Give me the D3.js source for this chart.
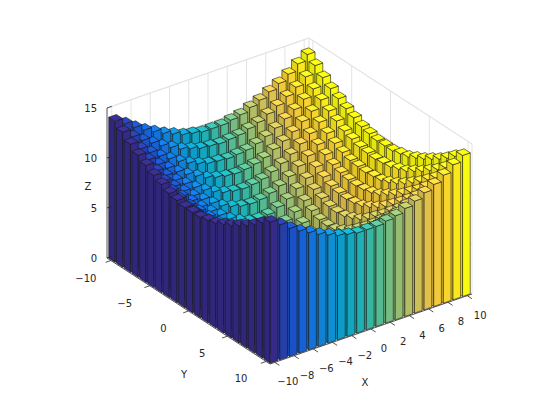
<!DOCTYPE html>
<html>
<head>
<meta charset="utf-8">
<script src="https://cdn.jsdelivr.net/npm/d3@7"></script>
<style>
  body { margin: 0; background: #fff; }
  text { font-family: "DejaVu Sans", sans-serif; font-size: 10px; fill: #262626; }
</style>
</head>
<body>
<svg id="chart" width="560" height="420"></svg>
<script>
// bar grid: columns along X, rows along Y
const xValues = d3.range(-10, 11);
const yValues = d3.range(-10, 11);
const zTicks = [0, 5, 10, 15];
const yTicks = [-10, -5, 0, 5, 10];
const xTicks = [-10, -8, -6, -4, -2, 0, 2, 4, 6, 8, 10];

// heights, one row per Y value (-10 .. 10), one entry per X value (-10 .. 10)
const heights = [
  [14.1,13.5,12.8,12.2,11.7,11.2,10.8,10.4,10.2,10.0,10,10.0,10.2,10.4,10.8,11.2,11.7,12.2,12.8,13.5,14.1],
  [13.5,12.7,12.0,11.4,10.8,10.3,9.8,9.5,9.2,9.1,9,9.1,9.2,9.5,9.8,10.3,10.8,11.4,12.0,12.7,13.5],
  [12.8,12.0,11.3,10.6,10.0,9.4,8.9,8.5,8.2,8.1,8,8.1,8.2,8.5,8.9,9.4,10.0,10.6,11.3,12.0,12.8],
  [12.2,11.4,10.6,9.9,9.2,8.6,8.1,7.6,7.3,7.1,7,7.1,7.3,7.6,8.1,8.6,9.2,9.9,10.6,11.4,12.2],
  [11.7,10.8,10.0,9.2,8.5,7.8,7.2,6.7,6.3,6.1,6,6.1,6.3,6.7,7.2,7.8,8.5,9.2,10.0,10.8,11.7],
  [11.2,10.3,9.4,8.6,7.8,7.1,6.4,5.8,5.4,5.1,5,5.1,5.4,5.8,6.4,7.1,7.8,8.6,9.4,10.3,11.2],
  [10.8,9.8,8.9,8.1,7.2,6.4,5.7,5.0,4.5,4.1,4,4.1,4.5,5.0,5.7,6.4,7.2,8.1,8.9,9.8,10.8],
  [10.4,9.5,8.5,7.6,6.7,5.8,5.0,4.2,3.6,3.2,3,3.2,3.6,4.2,5.0,5.8,6.7,7.6,8.5,9.5,10.4],
  [10.2,9.2,8.2,7.3,6.3,5.4,4.5,3.6,2.8,2.2,2,2.2,2.8,3.6,4.5,5.4,6.3,7.3,8.2,9.2,10.2],
  [10.0,9.1,8.1,7.1,6.1,5.1,4.1,3.2,2.2,1.4,1,1.4,2.2,3.2,4.1,5.1,6.1,7.1,8.1,9.1,10.0],
  [10,9,8,7,6,5,4,3,2,1,0,1,2,3,4,5,6,7,8,9,10],
  [10.0,9.1,8.1,7.1,6.1,5.1,4.1,3.2,2.2,1.4,1,1.4,2.2,3.2,4.1,5.1,6.1,7.1,8.1,9.1,10.0],
  [10.2,9.2,8.2,7.3,6.3,5.4,4.5,3.6,2.8,2.2,2,2.2,2.8,3.6,4.5,5.4,6.3,7.3,8.2,9.2,10.2],
  [10.4,9.5,8.5,7.6,6.7,5.8,5.0,4.2,3.6,3.2,3,3.2,3.6,4.2,5.0,5.8,6.7,7.6,8.5,9.5,10.4],
  [10.8,9.8,8.9,8.1,7.2,6.4,5.7,5.0,4.5,4.1,4,4.1,4.5,5.0,5.7,6.4,7.2,8.1,8.9,9.8,10.8],
  [11.2,10.3,9.4,8.6,7.8,7.1,6.4,5.8,5.4,5.1,5,5.1,5.4,5.8,6.4,7.1,7.8,8.6,9.4,10.3,11.2],
  [11.7,10.8,10.0,9.2,8.5,7.8,7.2,6.7,6.3,6.1,6,6.1,6.3,6.7,7.2,7.8,8.5,9.2,10.0,10.8,11.7],
  [12.2,11.4,10.6,9.9,9.2,8.6,8.1,7.6,7.3,7.1,7,7.1,7.3,7.6,8.1,8.6,9.2,9.9,10.6,11.4,12.2],
  [12.8,12.0,11.3,10.6,10.0,9.4,8.9,8.5,8.2,8.1,8,8.1,8.2,8.5,8.9,9.4,10.0,10.6,11.3,12.0,12.8],
  [13.5,12.7,12.0,11.4,10.8,10.3,9.8,9.5,9.2,9.1,9,9.1,9.2,9.5,9.8,10.3,10.8,11.4,12.0,12.7,13.5],
  [14.1,13.5,12.8,12.2,11.7,11.2,10.8,10.4,10.2,10.0,10,10.0,10.2,10.4,10.8,11.2,11.7,12.2,12.8,13.5,14.1]
];

const svg = d3.select("#chart");

// screen position of the floor corners of the box (x=-10.5,y=-10.5), (x=-10.5,y=10.5), (x=10.5,y=10.5)
const cA = [107, 258], cF = [270, 364], cR = [472, 294];
const sx = d3.scaleLinear().domain([-10.5, 10.5]).range([0, 1]);
const sy = d3.scaleLinear().domain([-10.5, 10.5]).range([0, 1]);
const sz = d3.scaleLinear().domain([0, 15]).range([0, -150]);

function proj(x, y, z) {
  const u = sx(x), v = sy(y);
  return [cA[0] + (cF[0] - cA[0]) * v + (cR[0] - cF[0]) * u,
          cA[1] + (cF[1] - cA[1]) * v + (cR[1] - cF[1]) * u + sz(z)];
}
const line = pts => "M" + pts.map(p => p.join(",")).join("L") + "Z";

const parula = d3.interpolateRgbBasis(["#352a87", "#0f5cdd", "#1481d6", "#06a4ca",
  "#2eb7a4", "#87bf77", "#d1bb59", "#fec832", "#f9fb0e"]);
const color = d3.scaleSequential(parula).domain([-10, 10]);

// back walls and grid
const grid = svg.append("g").attr("stroke", "#e3e3e3").attr("stroke-width", 1).attr("fill", "none");
const x0 = -10.5, x1 = 10.5, y0 = -10.5, y1 = 10.5;
xTicks.forEach(t => grid.append("path").attr("d", "M" + proj(t, y0, 0) + "L" + proj(t, y0, 15)));
yTicks.forEach(t => grid.append("path").attr("d", "M" + proj(x1, t, 0) + "L" + proj(x1, t, 15)));
zTicks.forEach(t => grid.append("path").attr("d", "M" + proj(x0, y0, t) + "L" + proj(x1, y0, t) + "L" + proj(x1, y1, t)));
xTicks.forEach(t => grid.append("path").attr("d", "M" + proj(t, y0, 0) + "L" + proj(t, y1, 0)));
yTicks.forEach(t => grid.append("path").attr("d", "M" + proj(x0, t, 0) + "L" + proj(x1, t, 0)));
grid.append("path").attr("d", "M" + proj(x0, y0, 15) + "L" + proj(x1, y0, 15) + "L" + proj(x1, y1, 15) + "L" + proj(x1, y1, 0));
grid.append("path").attr("d", "M" + proj(x1, y0, 0) + "L" + proj(x1, y0, 15));

// bars, far to near
const bars = svg.append("g").attr("stroke", "#1a1a1a").attr("stroke-width", 0.6).attr("stroke-linejoin", "round");
const w = 0.4;
xValues.slice().reverse().forEach(x => {
  const ci = xValues.indexOf(x);
  const base = d3.color(color(x));
  yValues.forEach((y, ri) => {
    const h = heights[ri][ci];
    const g = bars.append("g");
    // -X face
    g.append("path").attr("fill", base.darker(0.25))
      .attr("d", line([proj(x - w, y - w, 0), proj(x - w, y + w, 0), proj(x - w, y + w, h), proj(x - w, y - w, h)]));
    // +Y face
    g.append("path").attr("fill", base)
      .attr("d", line([proj(x - w, y + w, 0), proj(x + w, y + w, 0), proj(x + w, y + w, h), proj(x - w, y + w, h)]));
    // top
    g.append("path").attr("fill", base.brighter(0.35))
      .attr("d", line([proj(x - w, y - w, h), proj(x + w, y - w, h), proj(x + w, y + w, h), proj(x - w, y + w, h)]));
  });
});

// axes
const ax = svg.append("g").attr("stroke", "#262626").attr("stroke-width", 0.8).attr("fill", "none");
ax.append("path").attr("d", "M" + proj(x0, y0, 0) + "L" + proj(x0, y0, 15));
ax.append("path").attr("d", "M" + proj(x0, y0, 0) + "L" + proj(x0, y1, 0) + "L" + proj(x1, y1, 0));
zTicks.forEach(t => ax.append("path").attr("d", "M" + proj(x0, y0, t) + "L" + proj(x0 + 0.5, y0, t)));
yTicks.forEach(t => ax.append("path").attr("d", "M" + proj(x0, t, 0) + "L" + proj(x0 - 0.55, t, 0)));
xTicks.forEach(t => ax.append("path").attr("d", "M" + proj(t, y1, 0) + "L" + proj(t, y1 + 0.6, 0)));

const lab = svg.append("g");
zTicks.forEach(t => {
  const p = proj(x0, y0, t);
  lab.append("text").attr("x", p[0] - 10).attr("y", p[1] + 4).attr("text-anchor", "end").text(t);
});
const fmt = t => t < 0 ? "\u2212" + (-t) : String(t);
yTicks.forEach(t => {
  const p = proj(x0, t, 0);
  lab.append("text").attr("x", p[0] - 25).attr("y", p[1] + 21).attr("text-anchor", "middle").text(fmt(t));
});
xTicks.forEach(t => {
  const p = proj(t, y1, 0);
  lab.append("text").attr("x", p[0] + 13).attr("y", p[1] + 23).attr("text-anchor", "middle").text(fmt(t));
});
lab.append("text").attr("x", 365).attr("y", 386).attr("text-anchor", "middle").attr("font-size", 11).text("X");
lab.append("text").attr("x", 184).attr("y", 378).attr("text-anchor", "middle").attr("font-size", 11).text("Y");
lab.append("text").attr("x", 88).attr("y", 190).attr("text-anchor", "middle").attr("font-size", 11).text("Z");
</script>
</body>
</html>
